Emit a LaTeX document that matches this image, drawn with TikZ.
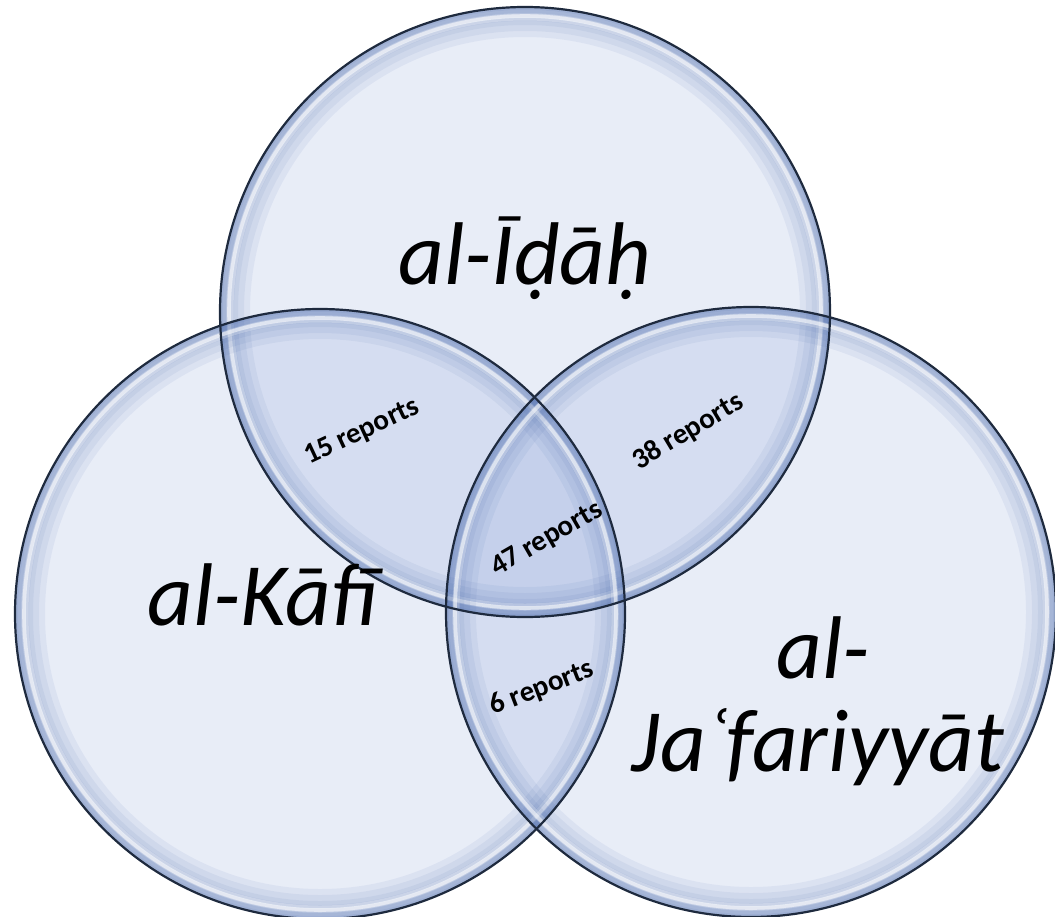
\documentclass[tikz,border=0pt]{standalone}
\usepackage{fontspec}
\setmainfont{Carlito}
\definecolor{vfill}{RGB}{112,140,206}
\definecolor{vrim}{RGB}{60,95,165}
\definecolor{vedge}{RGB}{30,42,62}
\begin{document}
\begin{tikzpicture}[x=0.5pt,y=-0.5pt,
  vset/.style={circle,minimum size=305pt,inner sep=0pt,outer sep=0pt,fill=vfill,fill opacity=0.16},
  big/.style={font=\itshape\fontsize{44.5}{54}\selectfont,inner sep=0pt,anchor=base},
  rep/.style={font=\bfseries\fontsize{14.5}{16}\selectfont,inner sep=0pt}]
\useasboundingbox (0,0) rectangle (1055,916);
\node[vset] (cI) at (525,312) {};
\node[vset] (cK) at (320,614) {};
\node[vset] (cJ) at (751,612) {};
\foreach \c in {cI,cK,cJ}{
  \foreach \w in {3,6,10,14,18,24,30}{
    \draw[vrim,draw opacity=0.075,line width=\w*0.5pt] (\c.center) circle[radius=152.5pt-\w*0.25pt];
  }
  \draw[white,draw opacity=0.55,line width=1.8pt] (\c.center) circle[radius=148pt];
  \draw[white,draw opacity=0.25,line width=3.5pt] (\c.center) circle[radius=147.5pt];
}
\foreach \c in {cI,cK,cJ}{
  \draw[vedge,line width=1.1pt] (\c.center) circle[radius=152.5pt];
}
\node[big] (tI) at (525,284) {al-Īḍāḥ};
\node[big] (tK) at (263,625) {al-Kāfī};
\node[big] (tJa) at (823,678) {al-};
\node[big] (tJb) at (818,771) {Jaʿfariyyāt};
\node[rep,rotate=25] (r15) at (362,432) {15 reports};
\node[rep,rotate=31] (r38) at (688,432) {38 reports};
\node[rep,rotate=30] (r47) at (547,539) {47 reports};
\node[rep,rotate=21] (r6) at (542,688) {6 reports};
\end{tikzpicture}
\end{document}
